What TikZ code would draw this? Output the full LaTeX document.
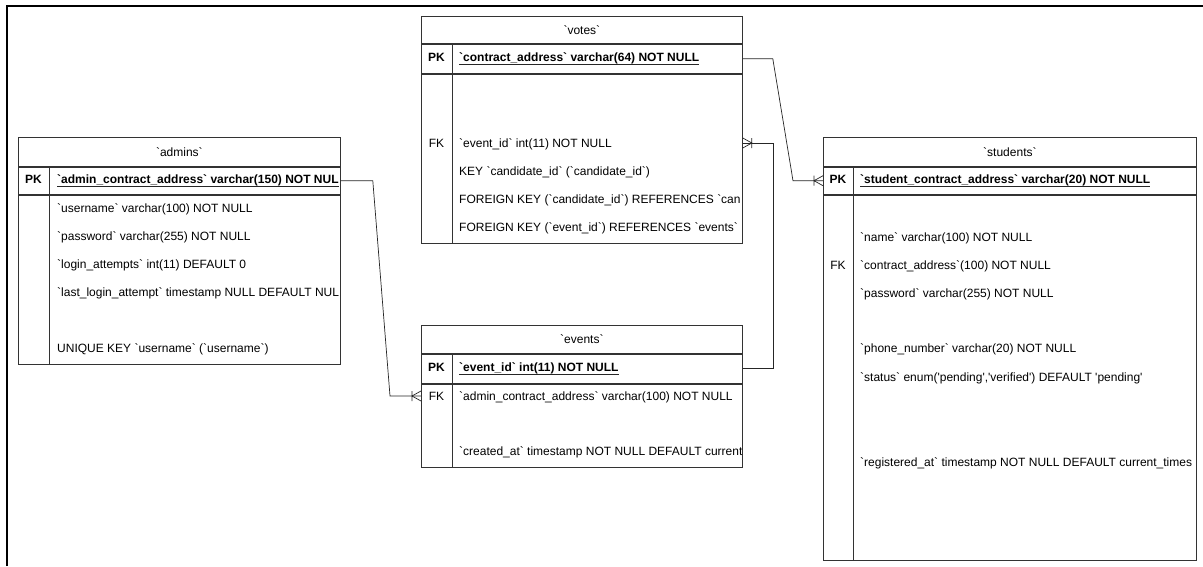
\documentclass[tikz,border=0pt]{standalone}
\usepackage{fontspec}
\setmainfont{Liberation Sans}[Ligatures=TeXOff]
\usetikzlibrary{calc}
\begin{document}
\begin{tikzpicture}[x=1pt,y=-1pt,font=\fontsize{12}{14}\selectfont]
\tikzset{
 tbl/.style={draw=black!80, line width=0.8pt, rectangle, inner sep=0pt, anchor=north west},
 cell/.style={anchor=west, inner sep=0pt, text height=8.6pt, text depth=0pt},
 keyl/.style={anchor=center, inner sep=0pt, text height=8.6pt, text depth=0pt},
 pkt/.style={cell, font=\fontsize{12}{14}\selectfont\bfseries},
 uline/.style={draw=black!85, line width=0.8pt},
 divl/.style={draw=black!80, line width=0.8pt},
 conn/.style={draw=black!85, line width=0.7pt},
 frameline/.style={draw=black, line width=2pt},
 crowR/.pic={\draw[conn] (0,-5) -- (-9,0) -- (0,5) (-9,-5) -- (-9,5);},
}
\useasboundingbox (0,0) rectangle (1203,566);
\fill[white] (0,0) rectangle (1203,566);
\draw[frameline] (6.5,566) -- (6.5,5.5) -- (1203,5.5);

% ---------- admins ----------
\node[tbl, minimum width=322, minimum height=29] (adT) at (18,137) {`admins`};
\node[tbl, minimum width=322, minimum height=27] (adPK) at (adT.south west) {};
\node[tbl, minimum width=322, minimum height=169] (adB) at (adPK.south west) {};
\draw[divl] ($(adPK.north west)+(31,0)$) -- ($(adB.south west)+(31,0)$);
\node[keyl, font=\fontsize{12}{14}\selectfont\bfseries] (adPKl) at (33.5,179.5) {PK};
\begin{scope}
\clip (18,137) rectangle (339.6,362);
\node[pkt] (adPKt) at (57,179.5) {`admin\_contract\_address` varchar(150) NOT NUL};
\draw[uline] ([yshift=-2pt]adPKt.south west) -- ([yshift=-2pt]adPKt.south east);
\node[cell] (ad1) at (57,208) {`username` varchar(100) NOT NULL};
\node[cell] (ad2) at (57,236) {`password` varchar(255) NOT NULL};
\node[cell] (ad3) at (57,264) {`login\_attempts` int(11) DEFAULT 0};
\node[cell] (ad4) at (57,292) {`last\_login\_attempt` timestamp NULL DEFAULT NUL};
\node[cell] (ad5) at (57,348) {UNIQUE KEY `username` (`username`)};
\end{scope}

% ---------- votes ----------
\node[tbl, minimum width=321, minimum height=27] (voT) at (421,16) {`votes`};
\node[tbl, minimum width=321, minimum height=29] (voPK) at (voT.south west) {};
\node[tbl, minimum width=321, minimum height=169] (voB) at (voPK.south west) {};
\draw[divl] ($(voPK.north west)+(31,0)$) -- ($(voB.south west)+(31,0)$);
\node[keyl, font=\fontsize{12}{14}\selectfont\bfseries] (voPKl) at (436.5,57.5) {PK};
\node[keyl] (voFK) at (436.5,143) {FK};
\begin{scope}
\clip (421,16) rectangle (741.6,241);
\node[pkt] (voPKt) at (459,57.5) {`contract\_address` varchar(64) NOT NULL};
\draw[uline] ([yshift=-2pt]voPKt.south west) -- ([yshift=-2pt]voPKt.south east);
\node[cell] (vo1) at (459,143) {`event\_id` int(11) NOT NULL};
\node[cell] (vo2) at (459,171) {KEY `candidate\_id` (`candidate\_id`)};
\node[cell] (vo3) at (459,199) {FOREIGN KEY (`candidate\_id`) REFERENCES `can};
\node[cell] (vo4) at (459,227) {FOREIGN KEY (`event\_id`) REFERENCES `events`};
\end{scope}

% ---------- events ----------
\node[tbl, minimum width=321, minimum height=28] (evT) at (421,325) {`events`};
\node[tbl, minimum width=321, minimum height=29] (evPK) at (evT.south west) {};
\node[tbl, minimum width=321, minimum height=83] (evB) at (evPK.south west) {};
\draw[divl] ($(evPK.north west)+(31,0)$) -- ($(evB.south west)+(31,0)$);
\node[keyl, font=\fontsize{12}{14}\selectfont\bfseries] (evPKl) at (436.5,367.5) {PK};
\node[keyl] (evFK) at (436.5,396) {FK};
\begin{scope}
\clip (421,325) rectangle (741.6,465);
\node[pkt] (evPKt) at (459,367.5) {`event\_id` int(11) NOT NULL};
\draw[uline] ([yshift=-2pt]evPKt.south west) -- ([yshift=-2pt]evPKt.south east);
\node[cell] (ev1) at (459,396) {`admin\_contract\_address` varchar(100) NOT NULL};
\node[cell] (ev2) at (459,451) {`created\_at` timestamp NOT NULL DEFAULT current};
\end{scope}

% ---------- students ----------
\node[tbl, minimum width=373, minimum height=29] (stT) at (823,137) {`students`};
\node[tbl, minimum width=373, minimum height=27] (stPK) at (stT.south west) {};
\node[tbl, minimum width=373, minimum height=365] (stB) at (stPK.south west) {};
\draw[divl] ($(stPK.north west)+(30,0)$) -- ($(stB.south west)+(30,0)$);
\node[keyl, font=\fontsize{12}{14}\selectfont\bfseries] (stPKl) at (838,179.5) {PK};
\node[keyl] (stFK) at (838,265) {FK};
\begin{scope}
\clip (823,137) rectangle (1195.6,558);
\node[pkt] (stPKt) at (860,179.5) {`student\_contract\_address` varchar(20) NOT NULL};
\draw[uline] ([yshift=-2pt]stPKt.south west) -- ([yshift=-2pt]stPKt.south east);
\node[cell] (st1) at (860,237) {`name` varchar(100) NOT NULL};
\node[cell] (st2) at (860,265) {`contract\_address`(100) NOT NULL};
\node[cell] (st3) at (860,293) {`password` varchar(255) NOT NULL};
\node[cell] (st4) at (860,348) {`phone\_number` varchar(20) NOT NULL};
\node[cell] (st5) at (860,377) {`status` enum('pending','verified') DEFAULT 'pending'};
\node[cell] (st6) at (860,462) {`registered\_at` timestamp NOT NULL DEFAULT current\_times};
\end{scope}

% ---------- connectors ----------
\draw[conn] (adPK.east) -- ++(32,0) -- ($(evB.west |- evFK)+(-31,0)$) -- (evB.west |- evFK);
\pic at (evB.west |- evFK) {crowR};
\draw[conn] (voPK.east) -- ++(30,0) -- ($(stPK.west)+(-30,0)$) -- (stPK.west);
\pic at (stPK.west) {crowR};
\draw[conn] (evPK.east) -- ++(31,0) |- (voB.east |- voFK);
\pic[rotate=180] at (voB.east |- voFK) {crowR};
\end{tikzpicture}
\end{document}
